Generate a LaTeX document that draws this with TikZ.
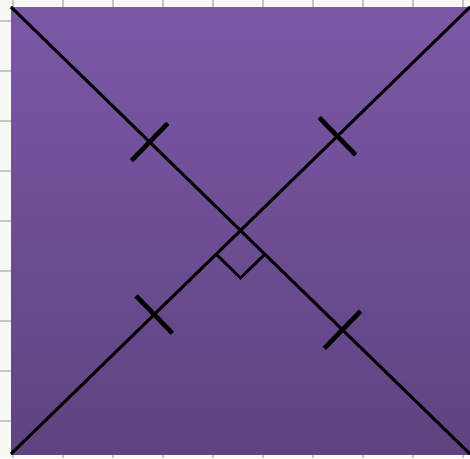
\documentclass[tikz,border=0pt]{standalone}
\usetikzlibrary{calc}
\definecolor{bgpaper}{HTML}{F8F9F4}
\definecolor{gridgray}{HTML}{C6C6C3}
\definecolor{purpletop}{HTML}{7B58A6}
\definecolor{purplebot}{HTML}{5E4380}
\begin{document}
\begin{tikzpicture}[x=1pt,y=-1pt,
  diag/.style={line width=3pt,black},
  tickmark/.style={line width=4.6pt,black},
  rightmark/.style={line width=2.8pt,black,line join=miter},
  gridline/.style={gridgray,line width=1.4pt}]
\fill[bgpaper] (0,0) rectangle (470,458);
\useasboundingbox (0,0) rectangle (470,458);
\foreach \x in {13,63,...,463} \draw[gridline] (\x,0) -- (\x,458);
\foreach \y in {21,71,...,421} \draw[gridline] (0,\y) -- (470,\y);
\shade[top color=purpletop,bottom color=purplebot] (11,7) rectangle (470,454);
\coordinate (TL) at (11,7);
\coordinate (TR) at (470,7);
\coordinate (BL) at (11,454);
\coordinate (BR) at (470,454);
\coordinate (O) at ($(TL)!0.5!(BR)$);
\draw[diag] (TL) -- (BR);
\draw[diag] (BL) -- (TR);
% tick marks
\coordinate (t1) at ($(TL)!0.302!(BR)$);
\coordinate (t2) at ($(TL)!0.722!(BR)$);
\coordinate (t3) at ($(BL)!0.312!(TR)$);
\coordinate (t4) at ($(BL)!0.711!(TR)$);
\draw[tickmark] ($(t1)!26pt!90:(BR)$) -- ($(t1)!26pt!-90:(BR)$);
\draw[tickmark] ($(t2)!26pt!90:(BR)$) -- ($(t2)!26pt!-90:(BR)$);
\draw[tickmark] ($(t3)!26pt!90:(TR)$) -- ($(t3)!26pt!-90:(TR)$);
\draw[tickmark] ($(t4)!26pt!90:(TR)$) -- ($(t4)!26pt!-90:(TR)$);
% right angle mark
\coordinate (ra) at ($(O)!34pt!(BL)$);
\coordinate (rb) at ($(O)!34pt!(BR)$);
\coordinate (rc) at ($(ra)+(rb)-(O)$);
\draw[rightmark] (ra) -- (rc) -- (rb);
\end{tikzpicture}
\end{document}
